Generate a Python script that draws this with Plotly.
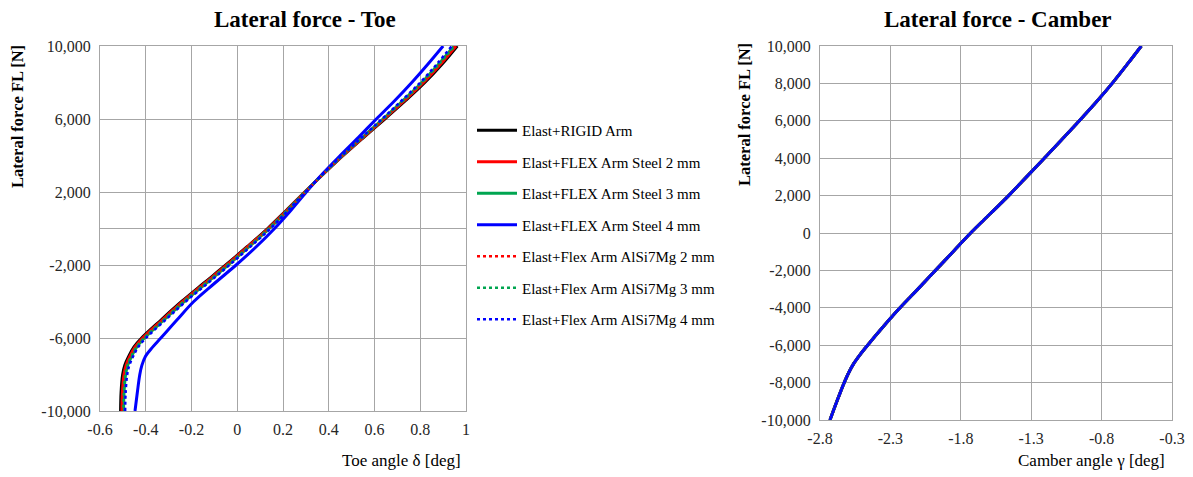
import plotly.graph_objects as go

# Lateral force levels [N] shared by every curve
FORCE = [-10000, -9000, -8000, -7500, -7000, -6500, -6000, -5000, -4000, -3000, -2000,
         -1000, 0, 1000, 2000, 3000, 4000, 5000, 6000, 7000, 8000, 9000, 10000]

# Toe angle [deg] for each suspension configuration
TOE_RIGID = [-0.510, -0.508, -0.501, -0.492, -0.474, -0.452, -0.418, -0.332, -0.243, -0.147, -0.050,
             0.043, 0.133, 0.215, 0.295, 0.378, 0.463, 0.553, 0.645, 0.735, 0.820, 0.895, 0.962]
TOE_STEEL_2 = [-0.504, -0.502, -0.495, -0.486, -0.469, -0.447, -0.413, -0.327, -0.238, -0.142, -0.046,
               0.046, 0.136, 0.217, 0.296, 0.377, 0.462, 0.551, 0.641, 0.730, 0.814, 0.888, 0.956]
TOE_STEEL_3 = [-0.497, -0.495, -0.488, -0.479, -0.462, -0.440, -0.406, -0.320, -0.232, -0.136, -0.040,
               0.051, 0.140, 0.220, 0.297, 0.376, 0.460, 0.548, 0.637, 0.724, 0.807, 0.880, 0.948]
TOE_STEEL_4 = [-0.447, -0.437, -0.426, -0.417, -0.401, -0.370, -0.334, -0.263, -0.190, -0.099, -0.005,
               0.083, 0.163, 0.235, 0.302, 0.373, 0.450, 0.530, 0.608, 0.688, 0.763, 0.833, 0.900]
TOE_ALSI_2 = [-0.502, -0.500, -0.493, -0.484, -0.467, -0.445, -0.411, -0.325, -0.236, -0.140, -0.044,
              0.048, 0.138, 0.218, 0.297, 0.377, 0.461, 0.550, 0.640, 0.728, 0.812, 0.886, 0.954]
TOE_ALSI_3 = [-0.495, -0.493, -0.486, -0.477, -0.460, -0.438, -0.404, -0.318, -0.230, -0.134, -0.038,
              0.053, 0.142, 0.221, 0.298, 0.376, 0.459, 0.547, 0.636, 0.722, 0.805, 0.878, 0.946]
TOE_ALSI_4 = [-0.490, -0.488, -0.481, -0.472, -0.455, -0.433, -0.399, -0.313, -0.225, -0.129, -0.034,
              0.057, 0.145, 0.223, 0.298, 0.375, 0.458, 0.545, 0.633, 0.718, 0.800, 0.872, 0.938]

# Camber angle [deg]: all configurations coincide
CAMBER = [-2.729, -2.680, -2.628, -2.598, -2.562, -2.515, -2.462, -2.350, -2.232, -2.105, -1.980,
          -1.855, -1.730, -1.595, -1.460, -1.333, -1.207, -1.082, -0.958, -0.838, -0.725, -0.620, -0.518]

SERIES_NAMES = ["Elast+RIGID Arm", "Elast+FLEX Arm Steel 2 mm", "Elast+FLEX Arm Steel 3 mm",
                "Elast+FLEX Arm Steel 4 mm", "Elast+Flex Arm AlSi7Mg 2 mm",
                "Elast+Flex Arm AlSi7Mg 3 mm", "Elast+Flex Arm AlSi7Mg 4 mm"]
TOE_SERIES = [TOE_RIGID, TOE_STEEL_2, TOE_STEEL_3, TOE_STEEL_4, TOE_ALSI_2, TOE_ALSI_3, TOE_ALSI_4]

TOE_TICKS = [-0.6, -0.4, -0.2, 0, 0.2, 0.4, 0.6, 0.8, 1]
TOE_TICK_TEXT = ["-0.6", "-0.4", "-0.2", "0", "0.2", "0.4", "0.6", "0.8", "1"]
CAMBER_TICKS = [-2.8, -2.3, -1.8, -1.3, -0.8, -0.3]
CAMBER_TICK_TEXT = ["-2.8", "-2.3", "-1.8", "-1.3", "-0.8", "-0.3"]
FORCE_TICKS_LEFT = [-10000, -6000, -2000, 2000, 6000, 10000]
FORCE_TEXT_LEFT = ["-10,000", "-6,000", "-2,000", "2,000", "6,000", "10,000"]
FORCE_TICKS_RIGHT = [-10000, -8000, -6000, -4000, -2000, 0, 2000, 4000, 6000, 8000, 10000]
FORCE_TEXT_RIGHT = ["-10,000", "-8,000", "-6,000", "-4,000", "-2,000", "0",
                    "2,000", "4,000", "6,000", "8,000", "10,000"]

COLORS = ["#000000", "#ff0000", "#00a550", "#0000ff", "#ff0000", "#00a550", "#0000ff"]
DASHES = ["solid", "solid", "solid", "solid", "3px,3px", "3px,3px", "3px,3px"]
WIDTHS = [3, 3, 3, 3, 2.5, 2.5, 2.5]

FONT = "Liberation Serif, Times New Roman, serif"
GRID = "#a6a6a6"
W, H = 1193, 477

fig = go.Figure()

for i, name in enumerate(SERIES_NAMES):
    line = dict(color=COLORS[i], width=WIDTHS[i], dash=DASHES[i], shape="spline", smoothing=1.0)
    fig.add_trace(go.Scatter(x=TOE_SERIES[i], y=FORCE, mode="lines", name=name, line=line,
                             legendgroup=f"g{i}", xaxis="x", yaxis="y"))
for i, name in enumerate(SERIES_NAMES):
    line = dict(color=COLORS[i], width=WIDTHS[i], dash=DASHES[i], shape="spline", smoothing=1.0)
    fig.add_trace(go.Scatter(x=CAMBER, y=FORCE, mode="lines", name=name, line=line,
                             legendgroup=f"g{i}", showlegend=False, xaxis="x2", yaxis="y2"))


def px_x(p):
    return p / W


def px_y(p):
    return 1 - p / H


axis_common = dict(showgrid=True, gridcolor=GRID, gridwidth=1.3, showline=True, linecolor=GRID,
                   linewidth=1.3, mirror=True, ticks="", tickfont=dict(family=FONT, size=16, color="#262626"),
                   zeroline=False, fixedrange=True, automargin=False)

fig.update_layout(
    width=W, height=H,
    margin=dict(l=0, r=0, t=0, b=0, autoexpand=False),
    paper_bgcolor="white", plot_bgcolor="white",
    xaxis=dict(domain=[px_x(100), px_x(466)], range=[-0.6, 1], tickvals=TOE_TICKS,
               ticktext=TOE_TICK_TEXT, anchor="y", ticklabelstandoff=4, **axis_common),
    yaxis=dict(domain=[px_y(411), px_y(46)], range=[-10000, 10000], tickvals=FORCE_TICKS_LEFT,
               ticktext=FORCE_TEXT_LEFT, anchor="x", ticklabelstandoff=5, **{**axis_common, "zeroline": True,
                                                                       "zerolinecolor": GRID, "zerolinewidth": 1.3}),
    xaxis2=dict(domain=[px_x(820), px_x(1172)], range=[-2.8, -0.3], tickvals=CAMBER_TICKS,
                ticktext=CAMBER_TICK_TEXT, anchor="y2", ticklabelstandoff=4, **axis_common),
    yaxis2=dict(domain=[px_y(420), px_y(46)], range=[-10000, 10000], tickvals=FORCE_TICKS_RIGHT,
                ticktext=FORCE_TEXT_RIGHT, anchor="x2", ticklabelstandoff=5, **axis_common),
    showlegend=True,
    legend=dict(x=px_x(472), y=px_y(114), xanchor="left", yanchor="top", traceorder="grouped",
                tracegroupgap=9, itemwidth=40, font=dict(family=FONT, size=15, color="#000000"),
                bgcolor="rgba(0,0,0,0)"),
)

annotations = [
    dict(text="<b>Lateral force - Toe</b>", x=px_x(305), y=px_y(19), font=dict(size=23)),
    dict(text="<b>Lateral force - Camber</b>", x=px_x(998), y=px_y(19), font=dict(size=23)),
    dict(text="<b>Lateral force FL [N]</b>", x=px_x(18), y=px_y(117), textangle=-90, font=dict(size=16.5)),
    dict(text="<b>Lateral force FL [N]</b>", x=px_x(745), y=px_y(115), textangle=-90, font=dict(size=16.5)),
    dict(text="Toe angle δ [deg]", x=px_x(463), y=px_y(460), xanchor="right", font=dict(size=17)),
    dict(text="Camber angle γ [deg]", x=px_x(1167), y=px_y(460), xanchor="right", font=dict(size=17)),
]
for a in annotations:
    a.setdefault("xanchor", "center")
    a["font"] = dict(family=FONT, color="#000000", **a["font"])
    fig.add_annotation(xref="paper", yref="paper", yanchor="middle", showarrow=False, **a)

fig.write_html("out.html")
